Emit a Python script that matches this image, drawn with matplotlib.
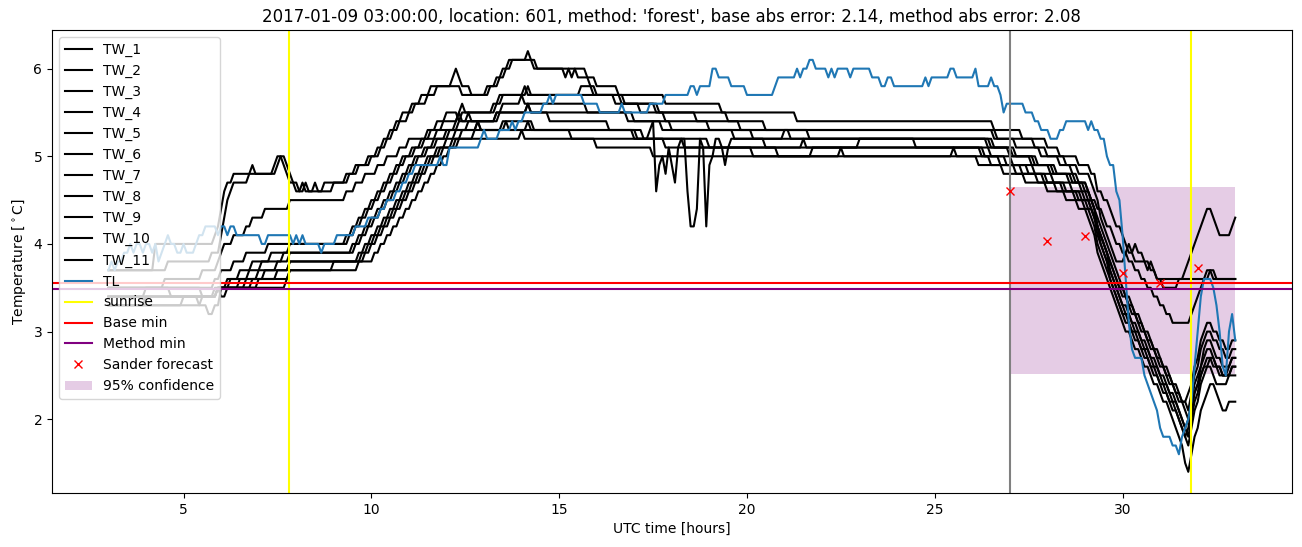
import numpy as np
import matplotlib
matplotlib.use("Agg")
import matplotlib.pyplot as plt

# readings every 5 minutes, 03:00 .. 33:00 UTC
# each series: "hh:mm=value" = value from that time until the next entry
TW_1 = ("3:00=3.7 4:15=4.0 5:50=4.1 5:55=4.2 6:00=4.4 6:05=4.6 6:10=4.7 6:20=4.8 6:50=4.9 6:55=4.8 7:30=4.9 "
        "7:35=5.0 7:45=4.9 7:50=4.8 7:55=4.7 8:05=4.6 8:15=4.7 8:20=4.6 8:30=4.7 8:35=4.6 9:00=4.7 9:20=4.8 "
        "9:35=4.9 9:55=5.0 10:10=5.1 10:20=5.2 10:30=5.3 10:40=5.4 10:50=5.5 11:05=5.6 11:20=5.7 11:35=5.8 "
        "12:10=5.9 12:15=6.0 12:20=5.9 12:25=5.8 12:40=5.7 13:05=5.8 13:20=5.9 13:30=6.0 13:40=6.1 14:10=6.2 "
        "14:15=6.1 14:25=6.0 15:10=5.9 15:15=6.0 15:20=5.9 15:25=6.0 15:45=5.9 16:00=5.8 16:35=5.7 17:50=5.6 "
        "19:20=5.5 21:20=5.4 26:35=5.3 27:20=5.2 28:00=5.1 28:20=5.0 28:50=4.9 29:10=4.8 29:20=4.6 29:30=4.5 "
        "29:40=4.4 29:45=4.3 29:50=4.2 30:00=4.1 30:05=4.0 30:10=3.9 30:20=4.0 30:25=3.9 30:35=3.8 30:45=3.7 "
        "30:55=3.6 31:40=3.7 31:45=3.8 31:50=3.9 31:55=4.0 32:00=4.1 32:05=4.2 32:10=4.3 32:15=4.4 32:25=4.3 "
        "32:30=4.2 32:35=4.1 32:55=4.2 33:00=4.3")
TW_2 = ("3:00=3.7 4:35=3.8 5:45=3.9 6:00=4.1 6:05=4.3 6:10=4.5 6:15=4.6 6:20=4.7 6:45=4.8 7:25=4.9 7:30=5.0 "
        "7:40=4.9 7:45=4.8 7:50=4.7 8:00=4.6 8:10=4.7 8:15=4.6 8:45=4.7 9:25=4.8 9:40=4.9 10:00=5.0 10:15=5.1 "
        "10:25=5.2 10:35=5.3 10:45=5.4 11:00=5.5 11:10=5.6 11:30=5.7 11:45=5.8 12:25=5.7 13:10=5.8 13:25=5.9 "
        "13:35=6.0 13:45=6.1 14:20=6.0 15:30=5.9 15:50=5.8 16:00=5.7 16:40=5.6 17:40=5.5 19:30=5.4 20:30=5.3 "
        "26:35=5.2 27:40=5.1 28:00=5.0 28:30=4.9 28:50=4.8 29:10=4.7 29:15=4.6 29:20=4.5 29:25=4.3 29:30=4.2 "
        "29:35=4.1 29:40=4.0 29:45=3.9 29:50=3.8 30:05=3.9 30:10=4.0 30:15=3.9 30:20=3.8 30:40=3.7 30:45=3.8 "
        "30:50=3.7 30:55=3.6 31:05=3.5 31:30=3.6 32:20=3.7 32:30=3.6")
TW_3 = ("3:00=3.5 4:30=3.6 5:30=3.7 5:55=3.8 6:00=3.9 6:05=4.0 6:20=4.1 6:40=4.2 6:50=4.3 7:10=4.4 7:50=4.5 "
        "9:20=4.6 9:35=4.7 9:50=4.8 10:10=4.9 10:25=5.0 10:45=5.1 11:00=5.2 11:30=5.3 11:45=5.4 12:00=5.5 "
        "12:20=5.4 12:25=5.5 13:20=5.6 13:30=5.7 14:10=5.8 14:15=5.7 16:30=5.6 17:10=5.5 17:50=5.4 19:00=5.3 "
        "26:40=5.2 27:10=5.1 27:50=5.0 28:20=4.9 28:40=4.8 28:50=4.7 29:05=4.6 29:10=4.5 29:20=4.4 29:30=4.3 "
        "29:35=4.2 29:45=4.1 29:50=4.0 30:00=3.9 30:10=3.8 30:20=3.7 30:30=3.6 30:40=3.5 30:50=3.4 31:00=3.3 "
        "31:10=3.2 31:20=3.1 31:50=3.2 31:55=3.3 32:00=3.4 32:05=3.5 32:10=3.6 32:15=3.7 32:25=3.6")
TW_4 = ("3:00=3.5 5:50=3.6 6:00=3.7 6:20=3.8 6:40=3.9 7:15=4.0 9:20=4.1 9:30=4.2 9:40=4.3 9:50=4.4 10:00=4.5 "
        "10:10=4.6 10:20=4.7 10:30=4.8 10:40=4.9 10:50=5.0 11:05=5.1 11:20=5.2 11:35=5.3 11:55=5.4 12:20=5.5 "
        "12:25=5.6 12:30=5.5 13:15=5.6 13:25=5.7 14:05=5.8 14:10=5.7 15:35=5.8 15:55=5.7 16:45=5.6 17:35=5.5 "
        "18:40=5.4 19:50=5.3 21:40=5.2 26:25=5.1 27:00=5.0 27:40=4.9 28:10=4.8 28:40=4.7 29:00=4.6 29:10=4.5 "
        "29:15=4.4 29:20=4.2 29:25=4.1 29:30=4.0 29:35=3.9 29:40=3.8 29:45=3.7 29:50=3.6 29:55=3.5 30:05=3.4 "
        "30:10=3.3 30:20=3.2 30:25=3.1 30:35=3.0 30:40=2.9 30:50=2.8 30:55=2.7 31:05=2.6 31:10=2.5 31:20=2.4 "
        "31:25=2.3 31:35=2.2 31:45=2.3 31:50=2.4 31:55=2.6 32:00=2.7 32:05=2.9 32:10=3.0 32:15=3.1 32:25=3.0 "
        "32:35=2.9 32:45=2.8 32:55=2.9")
TW_5 = ("3:00=3.5 4:40=3.4 5:50=3.5 6:10=3.6 6:30=3.7 6:50=3.8 7:20=3.9 7:50=4.0 9:25=4.1 9:35=4.2 9:45=4.3 "
        "9:55=4.4 10:05=4.5 10:15=4.6 10:25=4.7 10:35=4.8 10:45=4.9 10:55=5.0 11:10=5.1 11:25=5.2 11:45=5.3 "
        "12:15=5.4 12:20=5.5 12:25=5.4 13:20=5.5 13:30=5.6 14:00=5.7 14:05=5.6 15:45=5.5 16:50=5.4 17:45=5.3 "
        "20:10=5.2 21:00=5.3 21:10=5.2 26:30=5.1 27:10=5.0 27:45=4.9 28:15=4.8 28:45=4.7 29:05=4.6 29:10=4.5 "
        "29:15=4.4 29:20=4.3 29:25=4.2 29:30=4.1 29:35=4.0 29:40=3.9 29:45=3.8 29:50=3.7 29:55=3.6 30:00=3.5 "
        "30:05=3.4 30:15=3.3 30:20=3.2 30:30=3.1 30:35=3.0 30:45=2.9 30:50=2.8 31:00=2.7 31:05=2.6 31:15=2.5 "
        "31:20=2.4 31:30=2.3 31:35=2.2 31:45=2.1 31:50=2.3 31:55=2.5 32:00=2.6 32:05=2.8 32:10=2.9 32:15=3.0 "
        "32:25=2.9 32:35=2.8 32:45=2.7 32:55=2.8")
TW_6 = ("3:00=3.4 5:55=3.5 6:15=3.6 6:45=3.7 7:05=3.8 7:40=3.9 9:30=4.0 9:40=4.1 9:50=4.2 10:00=4.3 10:10=4.4 "
        "10:20=4.5 10:30=4.6 10:40=4.7 10:50=4.8 11:00=4.9 11:10=5.0 11:25=5.1 11:40=5.2 12:00=5.3 12:20=5.4 "
        "12:35=5.5 12:40=5.4 13:20=5.5 14:10=5.6 14:15=5.5 17:00=5.4 18:00=5.3 19:40=5.2 26:35=5.1 27:05=5.0 "
        "27:35=4.9 28:05=4.8 28:35=4.7 28:55=4.6 29:05=4.5 29:15=4.4 29:20=4.2 29:25=4.1 29:30=4.0 29:35=3.9 "
        "29:40=3.8 29:45=3.7 29:50=3.6 29:55=3.5 30:00=3.4 30:10=3.3 30:15=3.2 30:25=3.1 30:30=3.0 30:40=2.9 "
        "30:45=2.8 30:55=2.7 31:00=2.6 31:10=2.5 31:15=2.4 31:25=2.3 31:30=2.2 31:40=2.1 31:45=2.0 31:50=2.2 "
        "31:55=2.4 32:00=2.5 32:05=2.6 32:10=2.8 32:15=2.9 32:25=2.8 32:30=2.7 32:40=2.6 32:55=2.7")
TW_7 = ("3:00=3.4 4:00=3.5 5:30=3.4 5:55=3.5 6:30=3.6 7:00=3.7 7:30=3.8 7:50=3.9 9:35=4.0 9:45=4.1 9:55=4.2 "
        "10:05=4.3 10:15=4.4 10:25=4.5 10:35=4.6 10:45=4.7 10:55=4.8 11:05=4.9 11:15=5.0 11:30=5.1 11:45=5.2 "
        "12:05=5.3 12:50=5.4 12:55=5.3 14:10=5.4 14:15=5.3 17:15=5.2 17:25=5.3 17:30=5.4 17:35=4.6 17:40=4.9 "
        "17:45=5.0 17:50=4.8 17:55=5.1 18:00=4.9 18:05=4.7 18:10=5.1 18:15=5.2 18:25=4.6 18:30=4.2 18:40=4.4 "
        "18:45=5.2 18:50=5.1 18:55=4.2 19:00=4.9 19:05=5.0 19:10=5.2 19:20=5.1 19:25=4.9 19:30=5.1 19:35=5.2 "
        "20:30=5.1 26:20=5.0 26:55=4.9 27:30=4.8 28:00=4.7 28:30=4.6 28:55=4.5 29:10=4.4 29:15=4.3 29:20=4.2 "
        "29:25=4.1 29:30=4.0 29:35=3.9 29:40=3.7 29:45=3.6 29:50=3.5 29:55=3.4 30:00=3.3 30:10=3.2 30:15=3.1 "
        "30:25=3.0 30:30=2.9 30:40=2.8 30:45=2.7 30:55=2.6 31:00=2.5 31:10=2.4 31:15=2.3 31:25=2.2 31:30=2.1 "
        "31:35=2.0 31:40=1.9 31:45=2.0 31:50=2.1 31:55=2.3 32:00=2.4 32:05=2.6 32:10=2.7 32:15=2.8 32:25=2.7 "
        "32:30=2.6 32:40=2.5 32:55=2.6")
TW_8 = ("3:00=3.3 4:00=3.4 5:25=3.3 5:40=3.2 5:50=3.3 6:00=3.5 6:40=3.6 7:10=3.7 7:50=3.8 9:40=3.9 9:50=4.0 "
        "10:00=4.1 10:10=4.2 10:20=4.3 10:30=4.4 10:40=4.5 10:50=4.6 11:00=4.7 11:10=4.8 11:20=4.9 11:30=5.0 "
        "11:45=5.1 12:00=5.2 12:15=5.3 12:35=5.4 13:25=5.5 14:10=5.6 14:15=5.5 14:45=5.4 16:20=5.3 17:00=5.2 "
        "19:00=5.1 21:30=5.2 21:35=5.1 23:00=5.2 24:30=5.1 26:30=5.0 27:05=4.9 27:40=4.8 28:10=4.7 28:40=4.6 "
        "29:00=4.5 29:10=4.4 29:15=4.3 29:20=4.1 29:25=4.0 29:30=3.9 29:35=3.8 29:40=3.6 29:45=3.5 29:50=3.4 "
        "29:55=3.3 30:00=3.2 30:10=3.1 30:15=3.0 30:25=2.9 30:30=2.8 30:40=2.7 30:45=2.6 30:55=2.5 31:00=2.4 "
        "31:10=2.3 31:15=2.2 31:25=2.1 31:30=2.0 31:35=1.9 31:40=1.8 31:45=1.9 31:50=2.1 31:55=2.3 32:00=2.4 "
        "32:05=2.5 32:10=2.6 32:15=2.7 32:25=2.6 32:35=2.5 32:50=2.6 32:55=2.7")
TW_9 = ("3:00=3.3 5:00=3.4 5:55=3.5 6:50=3.6 7:30=3.7 7:50=3.8 9:45=3.9 9:55=4.0 10:05=4.1 10:15=4.2 10:25=4.3 "
        "10:35=4.4 10:45=4.5 10:55=4.6 11:05=4.7 11:15=4.8 11:25=4.9 11:35=5.0 11:50=5.1 12:10=5.2 12:25=5.3 "
        "13:30=5.4 14:20=5.3 17:05=5.2 18:20=5.1 20:50=5.0 21:45=5.1 26:15=5.0 26:45=4.9 27:20=4.8 27:55=4.7 "
        "28:25=4.6 28:50=4.5 29:05=4.4 29:15=4.3 29:20=4.2 29:25=4.0 29:30=3.9 29:35=3.8 29:40=3.7 29:45=3.6 "
        "29:50=3.5 29:55=3.4 30:00=3.3 30:05=3.2 30:15=3.1 30:20=3.0 30:30=2.9 30:35=2.8 30:45=2.7 30:50=2.6 "
        "31:00=2.5 31:05=2.4 31:15=2.3 31:20=2.2 31:30=2.1 31:35=2.0 31:40=1.9 31:45=1.8 31:50=2.0 31:55=2.2 "
        "32:00=2.3 32:05=2.5 32:10=2.6 32:20=2.7 32:30=2.6 32:40=2.5")
TW_10 = ("3:00=3.4 5:55=3.5 7:00=3.6 7:50=3.7 9:00=3.8 9:50=3.9 10:00=4.0 10:10=4.1 10:20=4.2 10:30=4.3 "
         "10:40=4.4 10:50=4.5 11:00=4.6 11:10=4.7 11:20=4.8 11:30=4.9 11:40=5.0 11:55=5.1 12:15=5.2 12:45=5.3 "
         "12:50=5.4 12:55=5.3 13:35=5.4 13:40=5.3 15:20=5.2 17:50=5.1 20:10=5.0 22:30=5.1 22:35=5.0 26:30=4.9 "
         "27:10=4.8 27:45=4.7 28:15=4.6 28:45=4.5 29:00=4.4 29:10=4.3 29:15=4.2 29:20=4.0 29:25=3.9 29:30=3.8 "
         "29:35=3.7 29:40=3.6 29:45=3.5 29:50=3.4 29:55=3.3 30:00=3.2 30:05=3.1 30:15=3.0 30:20=2.9 30:30=2.8 "
         "30:35=2.7 30:45=2.6 30:50=2.5 31:00=2.4 31:05=2.3 31:15=2.2 31:20=2.1 31:30=2.0 31:35=1.9 31:40=1.8 "
         "31:45=1.7 31:50=1.9 31:55=2.1 32:00=2.2 32:05=2.4 32:10=2.5 32:15=2.6 32:25=2.5 32:30=2.4 32:50=2.5 "
         "32:55=2.6")
TW_11 = ("3:00=3.3 5:30=3.4 5:55=3.5 6:00=3.4 6:10=3.5 7:45=3.6 7:50=3.7 9:40=3.8 10:05=3.9 10:15=4.0 "
         "10:25=4.1 10:35=4.2 10:45=4.3 10:55=4.4 11:05=4.5 11:15=4.6 11:25=4.7 11:35=4.8 11:45=4.9 11:55=5.0 "
         "12:05=5.1 12:20=5.2 14:00=5.3 14:05=5.2 16:00=5.1 17:30=5.0 25:30=5.1 25:35=5.0 26:10=4.9 26:50=4.8 "
         "27:25=4.7 28:00=4.6 28:30=4.5 28:50=4.4 29:05=4.3 29:10=4.2 29:15=4.1 29:20=3.9 29:25=3.8 29:30=3.7 "
         "29:35=3.6 29:40=3.5 29:45=3.4 29:50=3.3 29:55=3.2 30:00=3.1 30:05=3.0 30:15=2.9 30:20=2.8 30:30=2.7 "
         "30:35=2.6 30:45=2.5 30:50=2.4 31:00=2.3 31:05=2.2 31:15=2.1 31:20=2.0 31:25=1.9 31:30=1.8 31:35=1.7 "
         "31:40=1.5 31:45=1.4 31:50=1.6 31:55=1.8 32:00=1.9 32:05=2.1 32:10=2.2 32:15=2.3 32:20=2.4 32:30=2.3 "
         "32:35=2.2 32:40=2.1 32:50=2.2")
TL = ("3:00=3.7 3:05=3.8 3:10=3.7 3:15=3.8 3:25=3.9 3:35=4.0 3:40=3.9 3:45=4.0 3:55=3.9 4:00=4.0 4:10=3.9 "
      "4:15=4.0 4:20=3.8 4:25=3.9 4:30=4.0 4:35=4.1 4:40=4.0 4:50=3.9 5:00=4.0 5:05=3.9 5:20=4.0 5:25=4.1 "
      "5:35=4.2 5:55=4.1 6:00=4.2 6:10=4.1 6:15=4.2 6:25=4.1 7:05=4.0 7:15=4.1 7:55=4.0 8:00=4.1 8:05=4.0 "
      "8:10=4.1 8:15=4.0 8:40=3.9 8:45=4.0 9:05=4.1 9:35=4.2 9:55=4.3 10:15=4.4 10:25=4.5 10:40=4.6 10:50=4.7 "
      "11:00=4.8 11:10=4.9 11:50=5.0 11:55=4.9 12:05=5.1 12:55=5.2 13:00=5.3 13:05=5.2 13:25=5.3 13:45=5.4 "
      "13:50=5.3 13:55=5.4 14:05=5.5 14:35=5.6 14:45=5.7 14:50=5.6 14:55=5.7 15:40=5.6 16:05=5.5 16:40=5.6 "
      "16:45=5.5 17:25=5.6 17:50=5.7 18:30=5.8 18:40=5.7 18:45=5.8 19:05=6.0 19:15=5.9 19:35=5.8 20:00=5.7 "
      "20:45=5.8 20:50=5.9 21:20=6.0 21:25=5.9 21:30=6.0 21:40=6.1 21:50=6.0 22:10=5.9 22:15=6.0 22:20=5.9 "
      "22:25=6.0 22:45=5.9 22:50=6.0 23:20=5.9 23:35=5.8 23:45=5.9 23:55=5.8 24:45=5.9 24:50=5.8 24:55=5.9 "
      "25:25=6.0 25:35=5.9 26:05=6.0 26:10=5.8 26:30=5.9 26:35=5.8 26:45=5.7 26:50=5.5 26:55=5.6 27:25=5.5 "
      "27:40=5.4 27:50=5.3 28:05=5.2 28:20=5.3 28:30=5.4 29:05=5.3 29:10=5.4 29:15=5.3 29:25=5.2 29:35=5.0 "
      "29:40=4.9 29:50=4.6 29:55=4.5 30:00=4.1 30:05=3.6 30:10=3.1 30:15=2.8 30:20=2.7 30:35=2.5 30:40=2.4 "
      "30:45=2.3 30:50=2.2 30:55=2.1 31:00=1.9 31:05=1.8 31:20=1.7 31:30=1.6 31:35=1.8 31:40=1.9 31:45=2.0 "
      "31:50=2.2 31:55=2.6 32:00=3.0 32:05=3.4 32:10=3.6 32:25=3.5 32:30=3.3 32:35=3.0 32:40=2.6 32:45=2.5 "
      "32:50=3.0 32:55=3.2 33:00=2.9")

tw_series = [TW_1, TW_2, TW_3, TW_4, TW_5, TW_6, TW_7, TW_8, TW_9, TW_10, TW_11]

sunrise = [7.8, 31.82]
forecast_start = 27.0
base_min = 3.55
method_min = 3.49
sander_hours = [27, 28, 29, 30, 31, 32]
sander_temp = [4.6, 4.03, 4.09, 3.67, 3.55, 3.73]
conf_hours = [27, 33]
conf_low = 2.52
conf_high = 4.65

N_STEPS = 361  # 3:00 .. 33:00 every 5 min
hours = 3 + np.arange(N_STEPS) / 12


def expand(spec):
    pts = []
    for tok in spec.split():
        t, v = tok.split('=')
        hh, mm = t.split(':')
        pts.append(((int(hh) - 3) * 12 + int(mm) // 5, float(v)))
    vals = np.empty(N_STEPS)
    for i, (k, v) in enumerate(pts):
        k_end = pts[i + 1][0] if i + 1 < len(pts) else N_STEPS
        vals[k:k_end] = v
    return vals


plt.figure(figsize=(13.02, 5.47), dpi=100)
plt.subplots_adjust(left=0.04, right=0.992, top=0.945, bottom=0.099)

for i, spec in enumerate(tw_series):
    plt.plot(hours, expand(spec), color='black', label=f'TW_{i + 1}')
plt.plot(hours, expand(TL), color='C0', label='TL')

plt.axvline(sunrise[0], color='yellow', label='sunrise')
plt.axvline(sunrise[1], color='yellow')
plt.axvline(forecast_start, color='gray')
plt.axhline(base_min, color='red', label='Base min')
plt.axhline(method_min, color='purple', label='Method min')
plt.plot(sander_hours, sander_temp, 'rx', label='Sander forecast')
plt.fill_between(conf_hours, conf_low, conf_high, color='purple', alpha=0.2, linewidth=0,
                 label='95% confidence')

plt.title("2017-01-09 03:00:00, location: 601, method: 'forest', base abs error: 2.14, method abs error: 2.08")
plt.xlabel('UTC time [hours]')
plt.ylabel(r'Temperature [$^\circ$C]')
plt.legend(loc='upper left')

plt.savefig('out.png', dpi=100)
plt.close()
